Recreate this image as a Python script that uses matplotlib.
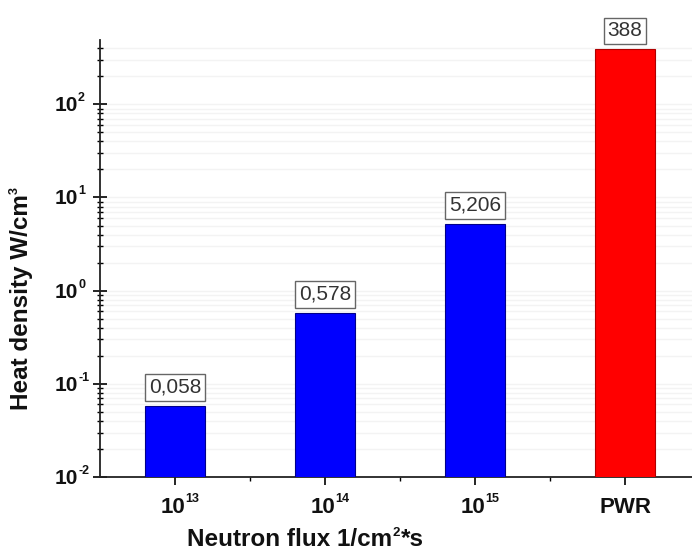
import matplotlib
matplotlib.use("Agg")
import matplotlib.pyplot as plt
import matplotlib.transforms as mtransforms
from matplotlib.ticker import LogLocator, NullFormatter, FixedLocator

plt.rcParams['font.family'] = ['Liberation Sans', 'DejaVu Sans']

# data
categories = ['10^13', '10^14', '10^15', 'PWR']
values = [0.058, 0.578, 5.206, 388]
value_labels = ['0,058', '0,578', '5,206', '388']
colors = ['#0000ff', '#0000ff', '#0000ff', '#ff0000']
edgecolors = ['#00008a', '#00008a', '#00008a', '#b00000']
y_decades = [-2, -1, 0, 1, 2]
ylabel_parts = ['Heat density W/cm', '3']
xlabel_parts = ['Neutron flux 1/cm', '2', '*s']

TXT = '#111111'
fig = plt.figure(figsize=(6.92, 5.53), dpi=100)
ax = fig.add_axes([100/692, 76/553, 600/692, 437/553])

x = list(range(1, len(values) + 1))
ax.bar(x, values, width=0.4, color=colors, edgecolor=edgecolors, linewidth=0.8, zorder=3)

ax.set_yscale('log')
ax.set_ylim(0.01, 490)
ax.set_xlim(0.5, 4.5)

for xi, v, lab in zip(x, values, value_labels):
    ax.annotate(lab, (xi, v), xytext=(0, 6.5), textcoords='offset points',
                ha='center', va='bottom', fontsize=15, color='#333333',
                bbox=dict(boxstyle='square,pad=0.18', fc='white', ec='#666666', lw=1.0),
                zorder=4)

def off(dx, dy):
    return mtransforms.ScaledTranslation(dx / 100.0, dy / 100.0, fig.dpi_scale_trans)

# x ticks
ax.set_xticks(x)
ax.set_xticklabels([''] * len(x))
ax.xaxis.set_minor_locator(FixedLocator([1.5, 2.5, 3.5]))
ax.tick_params(axis='x', which='major', direction='out', length=6, width=1.2)
ax.tick_params(axis='x', which='minor', direction='out', length=3, width=1.0)
xtrans = ax.get_xaxis_transform()
for xi, c in zip(x, categories):
    if '^' in c:
        base, exp = c.split('^')
        ax.text(xi, 0, base, transform=xtrans + off(10, -20), ha='right', va='top',
                fontsize=16, fontweight='bold', color=TXT, clip_on=False)
        ax.text(xi, 0, exp, transform=xtrans + off(10, -16), ha='left', va='top',
                fontsize=9, fontweight='bold', color=TXT, clip_on=False)
    else:
        ax.text(xi, 0, c, transform=xtrans + off(0, -20), ha='center', va='top',
                fontsize=16, fontweight='bold', color=TXT, clip_on=False)

# y ticks
ax.yaxis.set_major_locator(FixedLocator([10.0 ** d for d in y_decades]))
ax.yaxis.set_minor_locator(LogLocator(base=10, subs=[2, 3, 4, 5, 6, 7, 8, 9], numticks=20))
ax.yaxis.set_major_formatter(NullFormatter())
ax.yaxis.set_minor_formatter(NullFormatter())
ax.tick_params(axis='y', which='major', direction='inout', length=10, width=1.2)
ax.tick_params(axis='y', which='minor', direction='inout', length=5, width=1.0)
ytrans = ax.get_yaxis_transform()
for d in y_decades:
    ax.text(0, 10.0 ** d, '10', transform=ytrans + off(-22, -1.5), ha='right', va='center',
            fontsize=15, fontweight='bold', color=TXT, clip_on=False)
    ax.text(0, 10.0 ** d, str(d), transform=ytrans + off(-22, 6),
            ha='left', va='center', fontsize=9, fontweight='bold', color=TXT, clip_on=False)

ax.yaxis.grid(True, which='both', color='#f3f3f3', linewidth=1.0, zorder=0)

for s in ['top', 'right']:
    ax.spines[s].set_visible(False)
for s in ['left', 'bottom']:
    ax.spines[s].set_linewidth(1.3)
    ax.spines[s].set_color('#222222')

# y label with small superscript
yl = fig.text(22/692, 1 - 410/553, ylabel_parts[0], rotation=90, ha='center', va='bottom',
              fontsize=17.5, fontweight='bold', color=TXT)
plt.annotate(ylabel_parts[1], xy=(0, 1), xycoords=yl, xytext=(-1, 0), textcoords='offset points',
             rotation=90, ha='left', va='bottom', fontsize=9, fontweight='bold', color=TXT,
             annotation_clip=False)

# x label with small superscript
xl = fig.text(187/692, 2/553, xlabel_parts[0], ha='left', va='bottom',
              fontsize=17.5, fontweight='bold', color=TXT)
sup = plt.annotate(xlabel_parts[1], xy=(1, 1), xycoords=xl, xytext=(0.5, 1), textcoords='offset points',
                   ha='left', va='top', fontsize=9.5, fontweight='bold', color=TXT,
                   annotation_clip=False)
plt.annotate(xlabel_parts[2], xy=(1, 0), xycoords=(sup, xl), xytext=(0.5, 0), textcoords='offset points',
             ha='left', va='bottom', fontsize=17.5, fontweight='bold', color=TXT,
             annotation_clip=False)

fig.savefig('out.png', dpi=100)
